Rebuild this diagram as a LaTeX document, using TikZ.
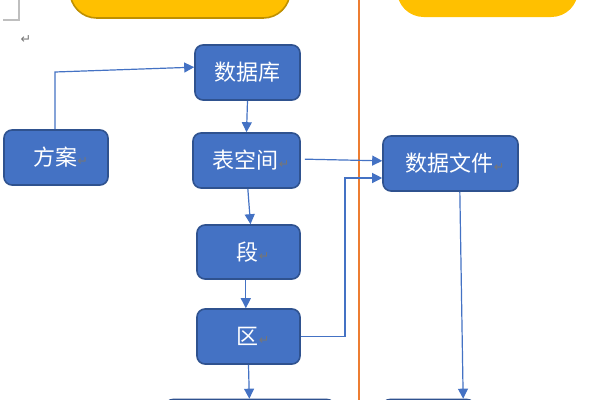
\documentclass[tikz,border=0pt]{standalone}
\usepackage{fontspec}
\newfontfamily\cjk{Noto Sans CJK SC}
\newfontfamily\symf{DejaVu Sans}
\usetikzlibrary{arrows.meta}
\definecolor{boxblue}{RGB}{68,114,196}
\definecolor{boxedge}{RGB}{47,82,143}
\definecolor{ylw}{RGB}{255,192,0}
\definecolor{ylwedge}{RGB}{191,144,0}
\definecolor{orng}{RGB}{237,125,49}
\definecolor{markgray}{RGB}{118,118,118}
\newcommand{\ret}{{\symf\fontsize{9.5}{9.5}\selectfont\color{markgray}↵}}
\tikzset{
  bluebox/.style={draw=boxedge, line width=1.2pt, fill=boxblue, rounded corners=6pt,
    text=white, font=\cjk\fontsize{16.5}{18}\selectfont, minimum height=41.25pt, inner sep=0pt},
  ybox/.style={fill=ylw, rounded corners=20pt, minimum height=45pt, inner sep=0pt},
  arr/.style={draw=boxblue, line width=0.9pt, -{Triangle[length=7.5pt,width=7.5pt]}}
}
\begin{document}
\begin{tikzpicture}[x=0.75pt,y=-0.75pt]
\useasboundingbox (0,0) rectangle (600,400);
\clip (0,0) rectangle (600,400);
\fill[white] (0,0) rectangle (600,400);
% page corner mark and paragraph mark
\draw[draw={rgb,255:red,191;green,191;blue,191}, line width=0.8pt] (19,0) -- (19,20) -- (3,20);
\node (pm) at (26,40) {\ret};
% separator
\draw[draw=orng, line width=0.8pt] (359,0) -- (359,400);
% yellow boxes
\node[ybox, draw=ylwedge, line width=1.2pt, minimum width=165pt] (y1) at (180,-12) {};
\node[ybox, minimum width=135.75pt] (y2) at (487.5,-13) {};
% blue boxes
\node[bluebox, minimum width=78.75pt] (db) at (247.5,72.5) {数据库};
\node[bluebox, minimum width=78pt] (fa) at (56,157.5) {\hspace{7pt}方案\ret};
\node[bluebox, minimum width=80.25pt] (bk) at (246.5,160.5) {\hspace{7pt}表空间\ret};
\node[bluebox, minimum width=101.25pt] (df) at (450.5,163.5) {\hspace{7pt}数据文件\ret};
\node[bluebox, minimum width=77.25pt, minimum height=40.5pt] (dn) at (248.5,252) {\hspace{7pt}段\ret};
\node[bluebox, minimum width=77.25pt] (qu) at (248.5,336.5) {\hspace{7pt}区\ret};
\node[bluebox, minimum width=127.5pt] (bl) at (250,427) {};
\node[bluebox, minimum width=69.75pt] (br) at (428.5,427) {};
% connectors
\coordinate (c1) at (55,72);
\draw[arr] (fa.north -| c1) -- (c1) -- ([yshift=4pt]db.west);
\draw[arr] (db.south) -- (bk.north);
\draw[arr] ([xshift=3pt,yshift=1pt]bk.east) -- ([yshift=2pt]df.west);
\coordinate (c2) at (345,336.5);
\coordinate (c3) at (345,178);
\draw[arr] (qu.east) -- (c2) -- (c3) -- (c3 -| df.west);
\draw[arr] ([xshift=1pt]bk.south) -- ([xshift=1.5pt]dn.north);
\draw[arr] ([xshift=-2pt]dn.south) -- ([xshift=-2pt]qu.north);
\draw[arr] (qu.south) -- ([xshift=-0.5pt]bl.north);
\draw[arr] ([xshift=7pt]df.south) -- ([xshift=26pt]br.north);
\end{tikzpicture}
\end{document}
